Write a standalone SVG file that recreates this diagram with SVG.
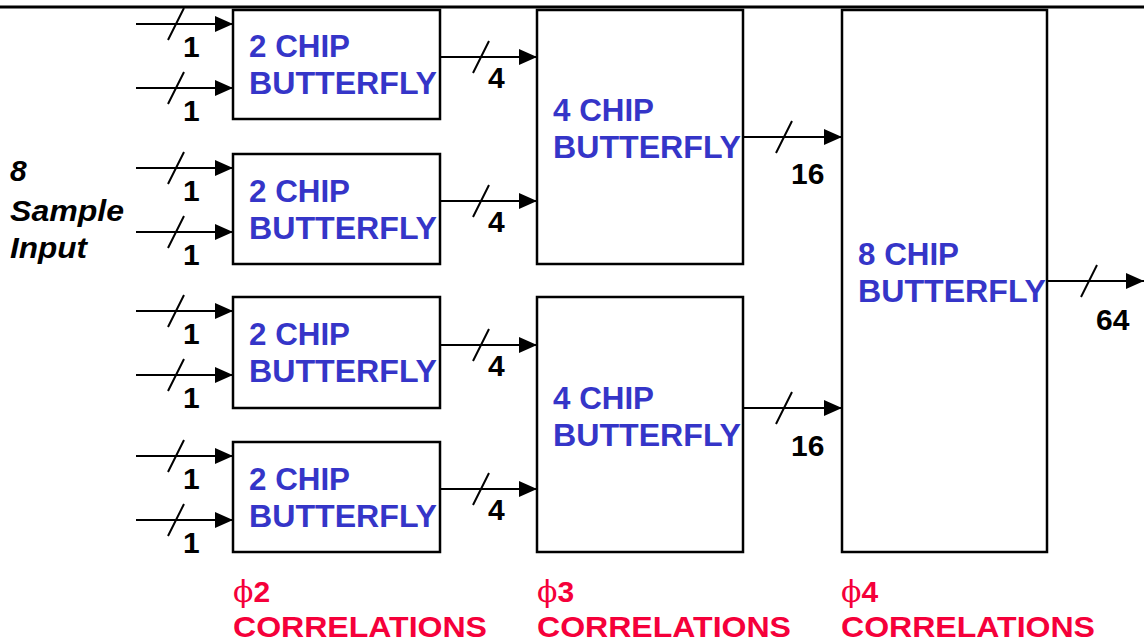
<svg xmlns="http://www.w3.org/2000/svg" width="1144" height="643" viewBox="0 0 1144 643">
<defs>
<marker id="arr" markerUnits="userSpaceOnUse" markerWidth="19" markerHeight="17" refX="18" refY="8" orient="auto" viewBox="0 0 19 17">
<path d="M0,0 L18,8 L0,16 Z" fill="#000"/>
</marker>
<style>
.box{fill:#fff;stroke:#000;stroke-width:2.5}
.bt{font-family:"Liberation Sans",Arial,sans-serif;font-weight:bold;font-size:31px;fill:#3535c8}
.lbl{font-family:"Liberation Sans",Arial,sans-serif;font-weight:bold;font-size:30px;fill:#000}
.in{font-family:"Liberation Sans",Arial,sans-serif;font-weight:bold;font-style:italic;font-size:30px;fill:#000}
.ph{font-family:"Liberation Sans",Arial,sans-serif;font-weight:bold;font-size:30px;fill:#f5003a}
.phi{font-family:"DejaVu Serif","Liberation Serif",serif;font-weight:normal;font-size:30px}
.w{stroke:#000;stroke-width:2.2;fill:none}
.s{stroke:#000;stroke-width:2;fill:none}
</style>
</defs>
<rect width="1144" height="643" fill="#fff"/>
<line x1="0" y1="7" x2="1144" y2="7" stroke="#000" stroke-width="3"/>

<g id="connectors">
<line class="w" x1="136" y1="24" x2="233" y2="24" marker-end="url(#arr)"/>
<line class="w" x1="136" y1="88" x2="233" y2="88" marker-end="url(#arr)"/>
<line class="w" x1="136" y1="168" x2="233" y2="168" marker-end="url(#arr)"/>
<line class="w" x1="136" y1="232" x2="233" y2="232" marker-end="url(#arr)"/>
<line class="w" x1="136" y1="311" x2="233" y2="311" marker-end="url(#arr)"/>
<line class="w" x1="136" y1="375" x2="233" y2="375" marker-end="url(#arr)"/>
<line class="w" x1="136" y1="456" x2="233" y2="456" marker-end="url(#arr)"/>
<line class="w" x1="136" y1="520" x2="233" y2="520" marker-end="url(#arr)"/>
<path class="s" d="M168,40 L184,8 M168,104 L184,72 M168,184 L184,152 M168,248 L184,216 M168,327 L184,295 M168,391 L184,359 M168,472 L184,440 M168,536 L184,504"/>
<line class="w" x1="440" y1="57" x2="537" y2="57" marker-end="url(#arr)"/>
<line class="w" x1="440" y1="201" x2="537" y2="201" marker-end="url(#arr)"/>
<line class="w" x1="440" y1="345" x2="537" y2="345" marker-end="url(#arr)"/>
<line class="w" x1="440" y1="489" x2="537" y2="489" marker-end="url(#arr)"/>
<path class="s" d="M473,73 L489,41 M473,217 L489,185 M473,361 L489,329 M473,505 L489,473"/>
<line class="w" x1="743" y1="137" x2="842" y2="137" marker-end="url(#arr)"/>
<line class="w" x1="743" y1="408" x2="842" y2="408" marker-end="url(#arr)"/>
<path class="s" d="M776,153 L792,121 M776,424 L792,392"/>
<line class="w" x1="1047" y1="281" x2="1144" y2="281" marker-end="url(#arr)"/>
<path class="s" d="M1081,297 L1097,265"/>
<text class="lbl" x="183" y="57">1</text>
<text class="lbl" x="183" y="121">1</text>
<text class="lbl" x="183" y="201">1</text>
<text class="lbl" x="183" y="265">1</text>
<text class="lbl" x="183" y="344">1</text>
<text class="lbl" x="183" y="408">1</text>
<text class="lbl" x="183" y="489">1</text>
<text class="lbl" x="183" y="553">1</text>
<text class="lbl" x="488" y="88">4</text>
<text class="lbl" x="488" y="232">4</text>
<text class="lbl" x="488" y="376">4</text>
<text class="lbl" x="488" y="520">4</text>
<text class="lbl" x="791" y="184">16</text>
<text class="lbl" x="791" y="456">16</text>
<text class="lbl" x="1096" y="330">64</text>
</g>

<g id="input-label">
<text class="in" x="10" y="181">8</text>
<text class="in" x="10" y="221" textLength="114" lengthAdjust="spacingAndGlyphs">Sample</text>
<text class="in" x="10" y="258" textLength="77" lengthAdjust="spacingAndGlyphs">Input</text>
</g>

<g id="bf2a"><rect class="box" x="233" y="10" width="207" height="109"/><text class="bt" x="249" y="57" textLength="101" lengthAdjust="spacingAndGlyphs">2 CHIP</text><text class="bt" x="249" y="94" textLength="188" lengthAdjust="spacingAndGlyphs">BUTTERFLY</text></g>
<g id="bf2b"><rect class="box" x="233" y="154" width="207" height="110"/><text class="bt" x="249" y="202" textLength="101" lengthAdjust="spacingAndGlyphs">2 CHIP</text><text class="bt" x="249" y="239" textLength="188" lengthAdjust="spacingAndGlyphs">BUTTERFLY</text></g>
<g id="bf2c"><rect class="box" x="233" y="297" width="207" height="111"/><text class="bt" x="249" y="345" textLength="101" lengthAdjust="spacingAndGlyphs">2 CHIP</text><text class="bt" x="249" y="382" textLength="188" lengthAdjust="spacingAndGlyphs">BUTTERFLY</text></g>
<g id="bf2d"><rect class="box" x="233" y="442" width="207" height="110"/><text class="bt" x="249" y="490" textLength="101" lengthAdjust="spacingAndGlyphs">2 CHIP</text><text class="bt" x="249" y="527" textLength="188" lengthAdjust="spacingAndGlyphs">BUTTERFLY</text></g>
<g id="bf4a"><rect class="box" x="537" y="10" width="206" height="254"/><text class="bt" x="553" y="121" textLength="101" lengthAdjust="spacingAndGlyphs">4 CHIP</text><text class="bt" x="553" y="158" textLength="188" lengthAdjust="spacingAndGlyphs">BUTTERFLY</text></g>
<g id="bf4b"><rect class="box" x="537" y="297" width="206" height="255"/><text class="bt" x="553" y="409" textLength="101" lengthAdjust="spacingAndGlyphs">4 CHIP</text><text class="bt" x="553" y="446" textLength="188" lengthAdjust="spacingAndGlyphs">BUTTERFLY</text></g>
<g id="bf8"><rect class="box" x="842" y="10" width="205" height="542"/><text class="bt" x="858" y="265" textLength="101" lengthAdjust="spacingAndGlyphs">8 CHIP</text><text class="bt" x="858" y="302" textLength="188" lengthAdjust="spacingAndGlyphs">BUTTERFLY</text></g>

<g id="phase2"><text class="ph" x="233" y="602"><tspan class="phi">ϕ</tspan>2</text><text class="ph" x="233" y="637" textLength="254" lengthAdjust="spacingAndGlyphs">CORRELATIONS</text></g>
<g id="phase3"><text class="ph" x="537" y="602"><tspan class="phi">ϕ</tspan>3</text><text class="ph" x="537" y="637" textLength="254" lengthAdjust="spacingAndGlyphs">CORRELATIONS</text></g>
<g id="phase4"><text class="ph" x="841" y="602"><tspan class="phi">ϕ</tspan>4</text><text class="ph" x="841" y="637" textLength="254" lengthAdjust="spacingAndGlyphs">CORRELATIONS</text></g>
</svg>
